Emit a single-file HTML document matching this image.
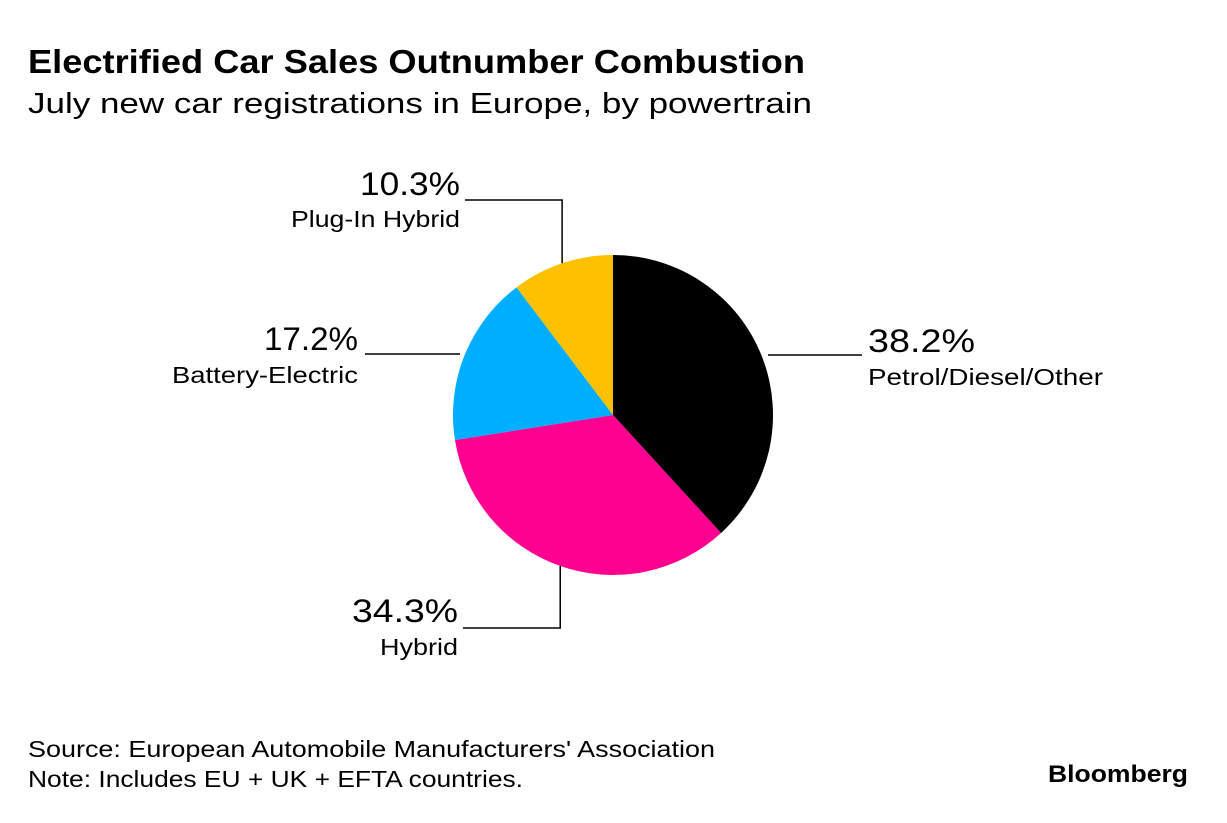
<!DOCTYPE html>
<html><head><meta charset="utf-8"><style>
body{margin:0;background:#fff;width:1227px;height:818px;overflow:hidden;font-family:"Liberation Sans",sans-serif}
</style></head><body>
<svg width="1227" height="818" xmlns="http://www.w3.org/2000/svg">
<text x="28" y="73" font-size="33" font-weight="bold" fill="#000" textLength="777" lengthAdjust="spacingAndGlyphs">Electrified Car Sales Outnumber Combustion</text>
<text x="28" y="113" font-size="29" fill="#000" textLength="784" lengthAdjust="spacingAndGlyphs">July new car registrations in Europe, by powertrain</text>
<g id="pie"></g>
<g id="labels"></g>
<text x="28" y="757" font-size="23" fill="#000" textLength="687" lengthAdjust="spacingAndGlyphs">Source: European Automobile Manufacturers' Association</text>
<text x="28" y="787" font-size="23" fill="#000" textLength="495" lengthAdjust="spacingAndGlyphs">Note: Includes EU + UK + EFTA countries.</text>
<text x="1048" y="782" font-size="24" font-weight="bold" fill="#000" textLength="140" lengthAdjust="spacingAndGlyphs">Bloomberg</text>
</svg>
<script>
const categories=["Petrol/Diesel/Other","Hybrid","Battery-Electric","Plug-In Hybrid"];
const values=[38.2,34.3,17.2,10.3];
const colors=["#000000","#ff0090","#00aeff","#fdc100"];
const valueLabels=["38.2%","34.3%","17.2%","10.3%"];
const NS="http://www.w3.org/2000/svg";
const cx=613,cy=415,r=160;
const total=values.reduce((a,b)=>a+b,0);
const pie=document.getElementById('pie');
function pt(frac,rr){const a=frac*2*Math.PI;return [cx+rr*Math.sin(a),cy-rr*Math.cos(a)];}
let acc=0;const mids=[];
values.forEach((v,i)=>{
 const s=acc/total,e=(acc+v)/total;acc+=v;mids.push((s+e)/2);
 const p0=pt(s,r),p1=pt(e,r);
 const large=(e-s)>0.5?1:0;
 const path=document.createElementNS(NS,'path');
 path.setAttribute('d',`M${cx},${cy}L${p0[0]},${p0[1]}A${r},${r} 0 ${large} 1 ${p1[0]},${p1[1]}Z`);
 path.setAttribute('fill',colors[i]);
 
 
 pie.appendChild(path);
});
const lab=document.getElementById('labels');
function line(pts){const p=document.createElementNS(NS,'polyline');p.setAttribute('points',pts.map(q=>q.join(',')).join(' '));p.setAttribute('fill','none');p.setAttribute('stroke','#000');p.setAttribute('stroke-width','1.5');


lab.appendChild(p);}
function txt(x,y,s,size,anchor,name,w){const t=document.createElementNS(NS,'text');t.setAttribute('x',x);t.setAttribute('y',y);t.setAttribute('font-size',size);t.setAttribute('text-anchor',anchor);t.setAttribute('textLength',w);t.setAttribute('lengthAdjust','spacingAndGlyphs');t.textContent=s;


lab.appendChild(t);}
line([[768,355],[862,355]]);
txt(868,352,valueLabels[0],32,'start','value-label',107);txt(868,385,categories[0],23,'start','category-label',235);
let m=pt(mids[1],r);
line([[m[0],m[1]],[m[0],628],[463,628]]);
txt(458,622,valueLabels[1],32,'end','value-label',106);txt(458,655,categories[1],23,'end','category-label',78);
line([[460,354],[365,354]]);
txt(358,350,valueLabels[2],32,'end','value-label',94);txt(358,383,categories[2],23,'end','category-label',186);
m=pt(mids[3],r);
line([[m[0],m[1]],[m[0],200],[465,200]]);
txt(460,195,valueLabels[3],32,'end','value-label',100);txt(460,227,categories[3],23,'end','category-label',169);
</script>
</body></html>
